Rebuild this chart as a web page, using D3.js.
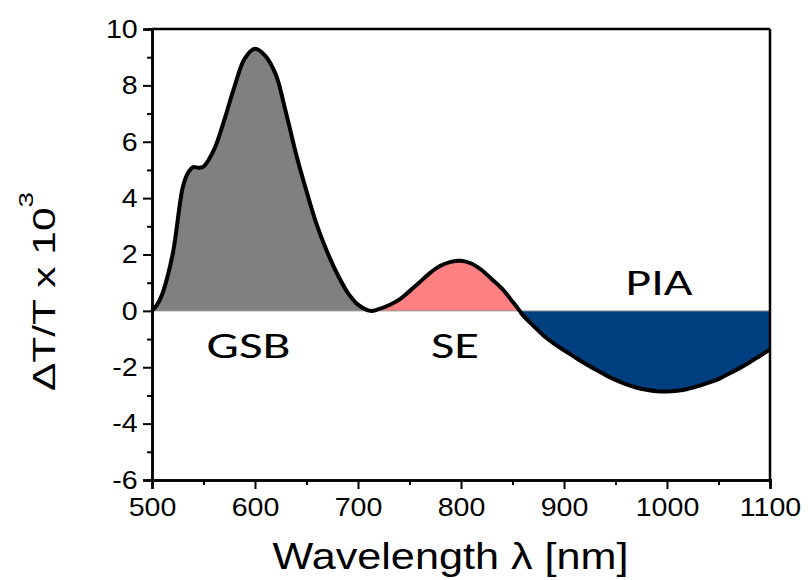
<!DOCTYPE html>
<html>
<head>
<meta charset="utf-8">
<script src="https://cdn.jsdelivr.net/npm/d3@7"></script>
<style>
  body { margin: 0; background: #fff; }
  svg { display: block; }
</style>
</head>
<body>
<svg width="808" height="580"></svg>
<script>
// wavelength (nm) and dT/T x 10^3
var wavelength = [500, 505, 510, 520, 530, 535, 540, 545, 550, 560, 570, 580, 590, 600, 610, 620, 630, 640, 650, 660, 670, 680, 690, 700, 712,
    720, 730, 740, 750, 760, 770, 780, 790, 800, 810, 820, 830, 840, 850, 857,
    860, 870, 880, 890, 900, 910, 920, 930, 940, 950, 960, 970, 980, 990, 1000, 1010, 1020, 1030, 1040, 1050, 1060, 1070, 1080, 1090, 1100];
var signal = [0, 0.22, 0.6, 2.0, 4.4, 4.9, 5.1, 5.08, 5.12, 5.7, 6.75, 7.95, 8.95, 9.3, 9.05, 8.4, 7.05, 5.55, 4.25, 3.05, 2.1, 1.3, 0.65, 0.22, 0,
    0.06, 0.2, 0.4, 0.7, 1.02, 1.35, 1.6, 1.74, 1.78, 1.68, 1.45, 1.12, 0.78, 0.33, 0,
    -0.15, -0.52, -0.87, -1.15, -1.4, -1.63, -1.86, -2.07, -2.27, -2.45, -2.6, -2.72, -2.8, -2.85, -2.86, -2.83, -2.77, -2.67, -2.55, -2.42, -2.23, -2.04, -1.83, -1.6, -1.37];

// spectral regions
var regionNames = ["GSB", "SE", "PIA"];
var regionStart = [500, 712, 857];
var regionEnd = [712, 857, 1100];
var regionColors = ["#808080", "#ff8080", "#003f7f"];

var xMajor = [500, 600, 700, 800, 900, 1000, 1100];
var xMinor = [550, 650, 750, 850, 950, 1050];
var yMajor = [-6, -4, -2, 0, 2, 4, 6, 8, 10];
var yMinor = [-5, -3, -1, 1, 3, 5, 7, 9];

var data = wavelength.map(function(w, i) {
    return {w: w, v: signal[i]};
});

var svg = d3.select("svg"),
    margin = {top: 29, right: 38, bottom: 100, left: 152},
    width = svg.attr("width") - margin.left - margin.right,
    height = svg.attr("height") - margin.top - margin.bottom,
    g = svg.append("g").attr("transform", "translate(" + margin.left + "," + margin.top + ")");

var x = d3.scaleLinear().domain([500, 1100]).range([0, width]),
    y = d3.scaleLinear().domain([-6, 10]).range([height, 0]);

var defs = svg.append("defs");
regionNames.forEach(function(name, i) {
    defs.append("clipPath")
        .attr("id", "clip-" + name)
        .append("rect")
        .attr("x", x(regionStart[i]))
        .attr("y", 0)
        .attr("width", x(regionEnd[i]) - x(regionStart[i]))
        .attr("height", height);
});

var area = d3.area()
    .curve(d3.curveCatmullRom)
    .x(function(d) { return x(d.w); })
    .y0(y(0))
    .y1(function(d) { return y(d.v); });

var line = d3.line()
    .curve(d3.curveCatmullRom)
    .x(function(d) { return x(d.w); })
    .y(function(d) { return y(d.v); });

regionNames.forEach(function(name, i) {
    g.append("path")
        .attr("clip-path", "url(#clip-" + name + ")")
        .attr("d", area(data))
        .attr("fill", regionColors[i]);
});

// zero line
g.append("line")
    .attr("x1", 0).attr("x2", width)
    .attr("y1", y(0)).attr("y2", y(0))
    .attr("stroke", "#999")
    .attr("stroke-width", 1);

g.append("path")
    .attr("d", line(data))
    .attr("fill", "none")
    .attr("stroke", "#000")
    .attr("stroke-width", 4)
    .attr("stroke-linejoin", "round");

// axes
var xAxis = g.append("g")
    .attr("transform", "translate(0," + height + ")")
    .call(d3.axisBottom(x).tickValues(xMajor).tickSize(9).tickPadding(9).tickFormat(d3.format("d")));
g.append("g")
    .attr("transform", "translate(0," + height + ")")
    .call(d3.axisBottom(x).tickValues(xMinor).tickSize(5).tickFormat(""));

var yAxis = g.append("g")
    .call(d3.axisLeft(y).tickValues(yMajor).tickSize(9).tickPadding(4).tickFormat(d3.format("d")));
g.append("g")
    .call(d3.axisLeft(y).tickValues(yMinor).tickSize(5).tickFormat(""));

g.selectAll(".domain").attr("stroke-width", 2.5);
g.selectAll(".tick line").attr("stroke-width", 2);
g.selectAll(".tick text")
    .attr("font-family", "'Liberation Sans', Arial, sans-serif")
    .attr("font-size", 26)
    .attr("fill", "#000")
    .attr("transform", "scale(1.1,1)");
yAxis.selectAll(".tick text").text(function(d) { return d < 0 ? "-" + Math.abs(d) : d; });

// top and right frame
g.append("line")
    .attr("x1", 0).attr("x2", width).attr("y1", 0).attr("y2", 0)
    .attr("stroke", "#000").attr("stroke-width", 2.5);
g.append("line")
    .attr("x1", width).attr("x2", width).attr("y1", 0).attr("y2", height)
    .attr("stroke", "#000").attr("stroke-width", 2.5);

// region labels
var labelX = [248.5, 455, 659],
    labelY = [358, 358, 295],
    labelLen = [84, 48, 67];
regionNames.forEach(function(name, i) {
    svg.append("text")
        .attr("x", labelX[i])
        .attr("y", labelY[i])
        .attr("text-anchor", "middle")
        .attr("font-family", "Carlito, Calibri, 'Open Sans', sans-serif")
        .attr("font-size", 37)
        .attr("textLength", labelLen[i])
        .attr("lengthAdjust", "spacingAndGlyphs")
        .text(name);
});

// axis titles
svg.append("text")
    .attr("x", 450.5)
    .attr("y", 569)
    .attr("text-anchor", "middle")
    .attr("font-family", "'Liberation Sans', Arial, sans-serif")
    .attr("font-size", 37)
    .attr("textLength", 356)
    .attr("lengthAdjust", "spacingAndGlyphs")
    .text("Wavelength \u03bb [nm]");

var yTitle = svg.append("g")
    .attr("transform", "translate(55,291.5) rotate(-90) scale(1.33,1)")
    .append("text")
    .attr("text-anchor", "middle")
    .attr("font-family", "'Liberation Sans', Arial, sans-serif")
    .attr("font-size", 32);
yTitle.append("tspan").text("\u0394T/T x 10");
yTitle.append("tspan").attr("dy", -22).attr("font-size", 21).text("3");
</script>
</body>
</html>
